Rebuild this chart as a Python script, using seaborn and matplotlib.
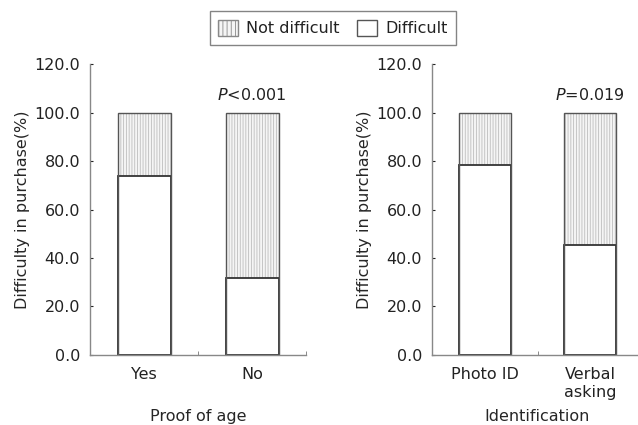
import matplotlib
matplotlib.use("Agg")
import matplotlib.pyplot as plt
import seaborn as sns
from matplotlib.patches import Patch

# data
proof_cats = ["Yes", "No"]
proof_difficult = [73.8, 31.9]
id_cats = ["Photo ID", "Verbal\nasking"]
id_difficult = [78.2, 45.4]
totals = [100.0, 100.0]
p_labels = ["P<0.001", "P=0.019"]
xlabels = ["Proof of age", "Identification"]

sns.set_style("white")
plt.rcParams['font.family'] = ['DejaVu Sans']
plt.rcParams['hatch.linewidth'] = 0.6
plt.rcParams['text.color'] = '#222222'

fs = 11.5
edge = '#555555'
hatch_col = '#bdbdbd'

fig = plt.figure(figsize=(6.38, 4.25), dpi=100)
ax1 = fig.add_axes([0.141, 0.165, 0.339, 0.684])
ax2 = fig.add_axes([0.677, 0.165, 0.331, 0.684])


def draw(ax, cats, diff, ptxt, xlab):
    # top segment: light hatched full-height bar
    sns.barplot(x=cats, y=totals, color='#f5f5f5', width=0.49, ax=ax,
                saturation=1)
    for p in ax.patches:
        p.set_hatch('||||||')
        p.set_edgecolor(hatch_col)
        p.set_linewidth(0)
    # bottom segment: white difficult bar
    sns.barplot(x=cats, y=diff, color='white', width=0.49, ax=ax,
                saturation=1, edgecolor='#333333', linewidth=1.3)
    # outline of full bar
    sns.barplot(x=cats, y=totals, color=edge, width=0.49, ax=ax,
                fill=False, linewidth=1.0)
    ax.set_xlim(-0.5, 1.5)
    ax.set_ylim(0, 120)
    ticks = [0, 20, 40, 60, 80, 100, 120]
    ax.set_yticks(ticks)
    ax.set_yticklabels([f"{v:.1f}" for v in ticks])
    ax.set_xticks([0.5, 1.5], minor=True)
    ax.tick_params(axis='x', which='major', length=0, labelsize=fs,
                   colors='#222222', pad=9)
    ax.tick_params(axis='x', which='minor', direction='in', length=3,
                   color='#777777', bottom=True)
    ax.tick_params(axis='y', direction='in', length=2, labelsize=fs,
                   colors='#222222', left=True, pad=7)
    for s in ['top', 'right']:
        ax.spines[s].set_visible(False)
    for s in ['left', 'bottom']:
        ax.spines[s].set_color('#888888')
        ax.spines[s].set_linewidth(1.0)
    ax.set_ylabel("Difficulty in purchase(%)", fontsize=fs, labelpad=3)
    ax.set_xlabel(xlab, fontsize=fs, labelpad=7 if '\n' in cats[1] else 19)
    ax.text(1, 104, r"$\mathit{P}$" + ptxt[1:], ha='center', va='bottom',
            fontsize=fs)


draw(ax1, proof_cats, proof_difficult, p_labels[0], xlabels[0])
draw(ax2, id_cats, id_difficult, p_labels[1], xlabels[1])

handles = [Patch(facecolor='#f5f5f5', edgecolor='#888888', hatch='||||'),
           Patch(facecolor='white', edgecolor='#555555')]
leg = fig.legend(handles, ["Not difficult", "Difficult"], ncol=2,
                 loc='upper center', bbox_to_anchor=(0.522, 0.993),
                 fontsize=fs, frameon=True, fancybox=False,
                 handlelength=1.2, handleheight=1.2, columnspacing=1.1,
                 handletextpad=0.55, borderpad=0.55)
leg.get_frame().set_edgecolor('#666666')
leg.get_frame().set_linewidth(1.0)

fig.savefig("out.png", dpi=100)
